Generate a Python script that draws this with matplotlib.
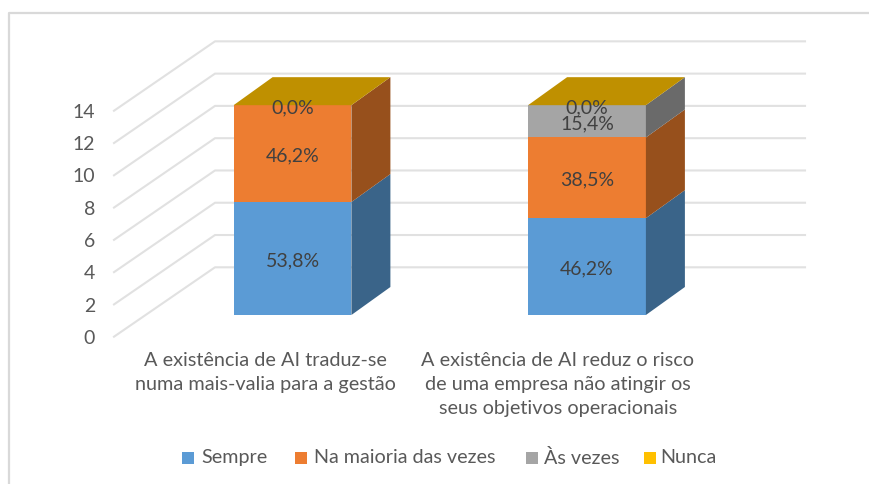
import matplotlib.pyplot as plt
from matplotlib.patches import Polygon

plt.rcParams['font.family'] = ['Lato', 'DejaVu Sans']

# Data
categories = ['A existência de AI traduz-se\nnuma mais-valia para a gestão',
              'A existência de AI reduz o risco\nde uma empresa não atingir os\nseus objetivos operacionais']
series = ['Sempre', 'Na maioria das vezes', 'Às vezes', 'Nunca']
counts = [[7, 6], [6, 5], [0, 2], [0, 0]]
labels = [['53,8%', '46,2%'], ['46,2%', '38,5%'], ['', '15,4%'], ['0,0%', '0,0%']]
yticks = [0, 2, 4, 6, 8, 10, 12, 14]

front_colors = ['#5B9BD5', '#ED7D31', '#A5A5A5', '#FFC000']
side_colors = ['#3A6489', '#97501C', '#6A6A6A', '#A37B00']
top_color = '#BF9000'
text_color = '#595959'

W, H = 870, 484
PX_PER_UNIT = 16.14
PX_PER_CAT = 294.5
BAR_WIDTH = 0.40
FLOOR_Y = 315
FIRST_X = 292.5
# oblique offset of one bar depth, in data units
DX = 39 / PX_PER_CAT
DY = 28 / PX_PER_UNIT


def px_x(px):
    return (px - FIRST_X) / PX_PER_CAT


def px_y(py):
    return (FLOOR_Y - py) / PX_PER_UNIT


def project(x, v, d):
    return x + d * DX, v + d * DY


fig = plt.figure(figsize=(W / 100, H / 100), dpi=100)
ax = fig.add_axes([0, 0, 1, 1])
ax.set_xlim(px_x(0), px_x(W))
ax.set_ylim(px_y(H), px_y(0))
ax.axis('off')

# Chart border, only top and left show in the crop
ax.plot([px_x(9), px_x(9), px_x(W)], [px_y(H), px_y(13), px_y(13)],
        color='#D9D9D9', lw=1.6, zorder=0)

# Gridlines on the side wall and back wall
for v in yticks:
    y0 = v + px_y(336.7)
    y1 = v + px_y(267.3)
    ax.plot([px_x(114), px_x(215), px_x(805)], [y0, y1, y1], color='#E1E1E1', lw=1.5, zorder=1)
    ax.text(px_x(95), y0 - 0.1, str(v), ha='right', va='center',
            fontsize=14, color=text_color)

# Stacked bars
for i in range(len(categories)):
    left = i - BAR_WIDTH / 2
    right = i + BAR_WIDTH / 2
    bottom = 0
    for s in range(len(series)):
        h = counts[s][i]
        z = 2 + s
        ax.bar(i, h, BAR_WIDTH, bottom=bottom, color=front_colors[s], zorder=z)
        if h > 0:
            side = [project(right, bottom, 0), project(right, bottom + h, 0),
                    project(right, bottom + h, 1), project(right, bottom, 1)]
            ax.add_patch(Polygon(side, closed=True, color=side_colors[s], lw=0, zorder=z))
        bottom += h
    # top face belongs to the empty "Nunca" series
    top = [project(left, bottom, 0), project(right, bottom, 0),
           project(right, bottom, 1), project(left, bottom, 1)]
    ax.add_patch(Polygon(top, closed=True, color=top_color, lw=0, zorder=7))

    # Data labels
    bottom = 0
    for s in range(len(series)):
        h = counts[s][i]
        if labels[s][i]:
            ax.text(i, bottom + h / 2 - 0.14, labels[s][i], ha='center', va='center',
                    fontsize=14, color='#404040', zorder=10)
        bottom += h

# Category labels
label_centers = [265, 558]
for cx, cat in zip(label_centers, categories):
    ax.text(px_x(cx), px_y(352), cat, ha='center', va='top',
            fontsize=14.3, color=text_color, linespacing=1.5)

# Legend
legend_marker_x = [188, 301.5, 532, 650]
legend_text_x = [201, 314, 544, 660]
for s, name in enumerate(series):
    ax.plot([px_x(legend_marker_x[s])], [px_y(457.5)], marker='s', ms=8.2, mew=0,
            color=front_colors[s], ls='none')
    ax.text(px_x(legend_text_x[s]), px_y(457.5), name, ha='left', va='center',
            fontsize=14.2, color=text_color)

fig.savefig('out.png', dpi=100)
